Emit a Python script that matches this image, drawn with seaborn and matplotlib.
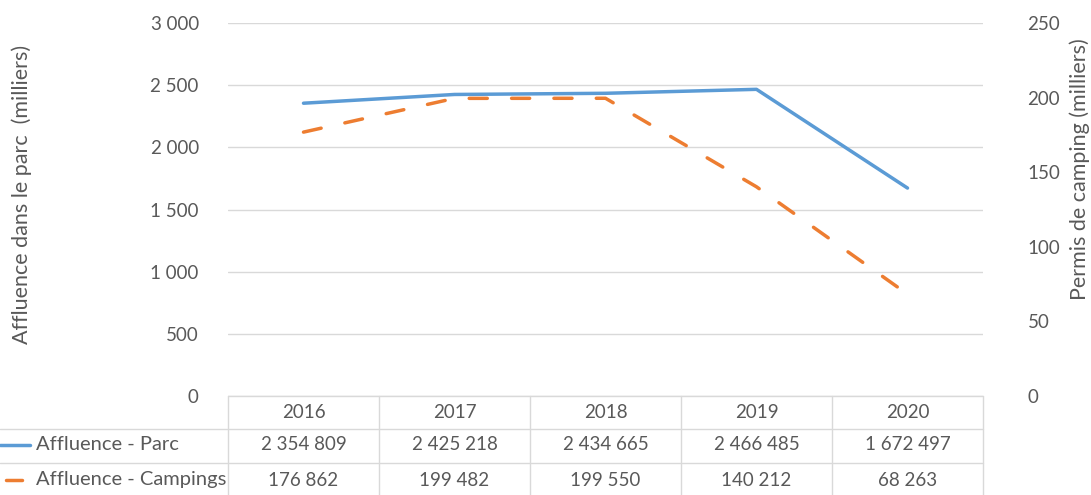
import matplotlib.pyplot as plt
import numpy as np
import pandas as pd
import seaborn as sns
from matplotlib.lines import Line2D
from matplotlib.ticker import FuncFormatter, MultipleLocator

years = ["2016", "2017", "2018", "2019", "2020"]
parc = [2354809, 2425218, 2434665, 2466485, 1672497]
campings = [176862, 199482, 199550, 140212, 68263]
series_names = ["Affluence - Parc", "Affluence - Campings"]

BLUE = "#5B9BD5"
ORANGE = "#ED7D31"
TEXT = "#595959"
GRID = "#D9D9D9"
FS = 13.5

sns.set_style("white")
plt.rcParams["font.family"] = ["Lato", "DejaVu Sans"]


def spaced(value):
    return f"{int(value):,}".replace(",", " ")


data = pd.DataFrame({
    "pos": np.arange(len(years)),
    "parc": np.array(parc) / 1000,
    "campings": np.array(campings) / 1000,
})

W, H = 1091, 495
fig = plt.figure(figsize=(W / 100, H / 100), dpi=100)
left, right, top, bottom = 228, 983, 23, 396
ax = fig.add_axes([left / W, 1 - bottom / H, (right - left) / W, (bottom - top) / H])
ax2 = ax.twinx()

sns.lineplot(data=data, x="pos", y="parc", ax=ax, color=BLUE, linewidth=2.5,
             solid_capstyle="round", zorder=3)
sns.lineplot(data=data, x="pos", y="campings", ax=ax2, color=ORANGE, linewidth=2.5,
             linestyle=(0, (5.2, 7.0)), dash_capstyle="round", zorder=3)

ax.set_xlim(-0.5, len(years) - 0.5)
ax.set_ylim(0, 3000)
ax2.set_ylim(0, 250)
ax.yaxis.set_major_locator(MultipleLocator(500))
ax2.yaxis.set_major_locator(MultipleLocator(50))
ax.yaxis.set_major_formatter(FuncFormatter(lambda v, _: spaced(v)))
ax.set_xticks([])
ax.set_xlabel("")
ax.set_ylabel("")
ax2.set_ylabel("")
ax.grid(axis="y", color=GRID, linewidth=1)
ax.set_axisbelow(True)
for a in (ax, ax2):
    for s in a.spines.values():
        s.set_visible(False)
ax.tick_params(axis="y", length=0, pad=21, labelsize=FS, labelcolor=TEXT)
ax2.tick_params(axis="y", length=0, pad=32, labelsize=FS, labelcolor=TEXT)
for lbl in ax2.get_yticklabels():
    lbl.set_horizontalalignment("left")

fig.text(22 / W, 1 - 194 / H, "Affluence dans le parc  (milliers)", rotation=90,
         ha="center", va="center", fontsize=15.5, color=TEXT)
fig.text(1080 / W, 1 - 169 / H, "Permis de camping (milliers)", rotation=90,
         ha="center", va="center", fontsize=15.5, color=TEXT)

# data table below the plot
plot_h = bottom - top
row_lines = [0, -33 / plot_h, -67 / plot_h, -100 / plot_h]
row_centers = [-16 / plot_h, -49 / plot_h, -84 / plot_h]
tr = ax.get_xaxis_transform()
ax.plot([-0.5, len(years) - 0.5], [0, 0], transform=tr, color=GRID, lw=1, clip_on=False)
for y in row_lines[1:3]:
    fig.add_artist(Line2D([0, right / W], [1 - (bottom - y * plot_h) / H] * 2,
                          color=GRID, lw=1))
for xb in np.arange(len(years) + 1) - 0.5:
    ax.plot([xb, xb], [0, row_lines[-1]], transform=tr, color=GRID, lw=1, clip_on=False)

for i, yr in enumerate(years):
    ax.text(i, row_centers[0], yr, transform=tr, ha="center", va="center",
            fontsize=FS, color=TEXT)
    ax.text(i, row_centers[1], spaced(parc[i]), transform=tr, ha="center", va="center",
            fontsize=FS, color=TEXT)
    ax.text(i, row_centers[2], spaced(campings[i]), transform=tr, ha="center", va="center",
            fontsize=FS, color=TEXT)

for name, color, (x0, x1), yc in [
    (series_names[0], BLUE, (0, 30), row_centers[1]),
    (series_names[1], ORANGE, (6, 22), row_centers[2]),
]:
    yf = 1 - (bottom - yc * plot_h) / H
    fig.add_artist(Line2D([x0 / W, x1 / W], [yf, yf], color=color, lw=2.5,
                          solid_capstyle="round"))
    fig.text(36 / W, yf, name, ha="left", va="center", fontsize=14.5, color=TEXT)

fig.savefig("out.png", dpi=100)
